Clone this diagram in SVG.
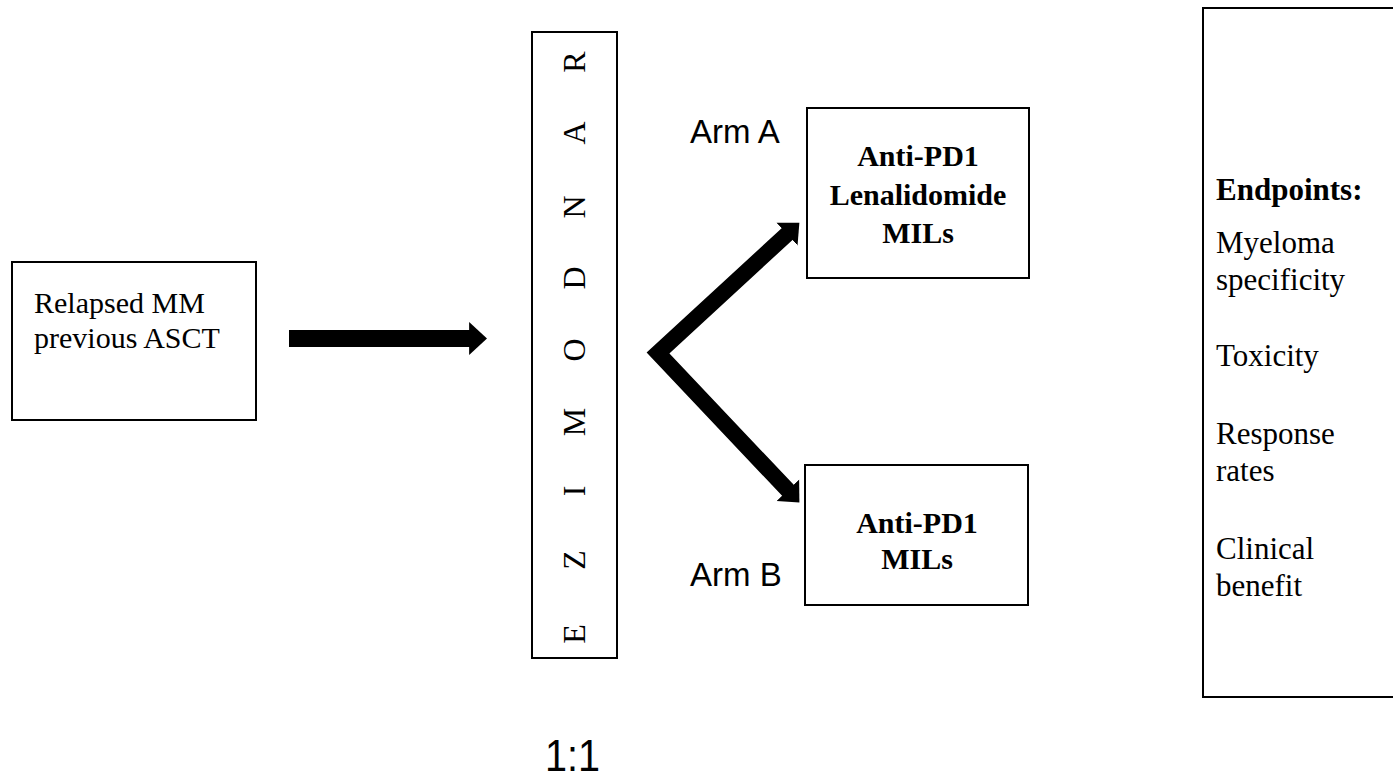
<svg xmlns="http://www.w3.org/2000/svg" width="1393" height="782" viewBox="0 0 1393 782">
<style>
.box{fill:#fff;stroke:#000;stroke-width:2}
.serif{font-family:"Liberation Serif","Times New Roman",serif;font-size:30px;fill:#000}
.ep{font-size:31px}
.bold{font-weight:bold}
.sans{font-family:"Liberation Sans",Arial,sans-serif;font-size:33px;fill:#000}
.big{font-size:44px}
.rl{font-family:"Liberation Serif","Times New Roman",serif;font-size:32px;fill:#000;text-anchor:middle}
.conn{fill:none;stroke:#000;stroke-linejoin:miter;stroke-miterlimit:10}
</style>
<defs>
<marker id="head" viewBox="0 -1 1.1 2" markerWidth="1.1" markerHeight="2" refX="0.05" refY="0" markerUnits="strokeWidth" orient="auto-start-reverse">
<path d="M0,-0.97 L1.05,0 L0,0.97 Z" fill="#000"/>
</marker>
</defs>
<rect width="1393" height="782" fill="#fff"/>

<g id="connectors">
<path class="conn" d="M289,338.5 H470" stroke-width="17" marker-end="url(#head)"/>
<path class="conn" d="M787.6,233.6 L658,353 L788.4,490.8" stroke-width="16" marker-start="url(#head)" marker-end="url(#head)"/>
</g>

<g id="population">
<rect class="box" x="12" y="262" width="244" height="158"/>
<text class="serif" x="34" y="313">Relapsed MM</text>
<text class="serif" x="34" y="348">previous ASCT</text>
</g>

<g id="randomize">
<rect class="box" x="532" y="32" width="85" height="626"/>
<text class="rl" transform="translate(585,62) rotate(-90)">R</text>
<text class="rl" transform="translate(585,133) rotate(-90)">A</text>
<text class="rl" transform="translate(585,207) rotate(-90)">N</text>
<text class="rl" transform="translate(585,278) rotate(-90)">D</text>
<text class="rl" transform="translate(585,350) rotate(-90)">O</text>
<text class="rl" transform="translate(585,422) rotate(-90)">M</text>
<text class="rl" transform="translate(585,491) rotate(-90)">I</text>
<text class="rl" transform="translate(585,560) rotate(-90)">Z</text>
<text class="rl" transform="translate(585,634) rotate(-90)">E</text>
</g>

<g id="ratio">
<text class="sans big" x="545" y="771" textLength="55" lengthAdjust="spacingAndGlyphs">1:1</text>
</g>

<g id="arm-a">
<text class="sans" x="690" y="143">Arm A</text>
<rect class="box" x="807" y="108" width="222" height="170"/>
<text class="serif bold" x="918" y="166" text-anchor="middle">Anti-PD1</text>
<text class="serif bold" x="918" y="205" text-anchor="middle">Lenalidomide</text>
<text class="serif bold" x="918" y="243" text-anchor="middle">MILs</text>
</g>

<g id="arm-b">
<text class="sans" x="690" y="586">Arm B</text>
<rect class="box" x="805" y="465" width="223" height="140"/>
<text class="serif bold" x="917" y="533" text-anchor="middle">Anti-PD1</text>
<text class="serif bold" x="917" y="569" text-anchor="middle">MILs</text>
</g>

<g id="endpoints">
<rect class="box" x="1203" y="8" width="250" height="689"/>
<text class="serif ep bold" x="1216" y="200">Endpoints:</text>
<text class="serif ep" x="1216" y="253">Myeloma</text>
<text class="serif ep" x="1216" y="290">specificity</text>
<text class="serif ep" x="1216" y="366">Toxicity</text>
<text class="serif ep" x="1216" y="444">Response</text>
<text class="serif ep" x="1216" y="481">rates</text>
<text class="serif ep" x="1216" y="559">Clinical</text>
<text class="serif ep" x="1216" y="596">benefit</text>
</g>
</svg>
